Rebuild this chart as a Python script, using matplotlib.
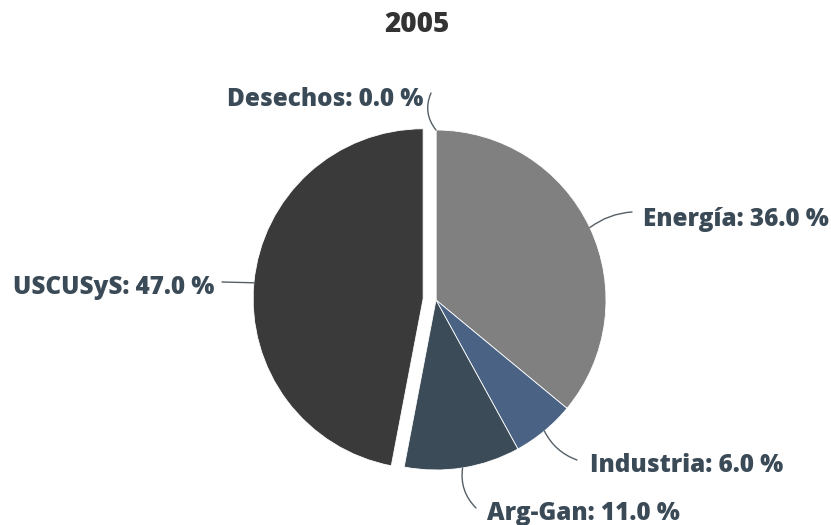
import numpy as np
import matplotlib.pyplot as plt

# datos 2005
categorias = ['Energía', 'Industria', 'Arg-Gan', 'USCUSyS', 'Desechos']
porcentajes = [36.0, 6.0, 11.0, 47.0, 0.0]
colores = ['#808080', '#4a6283', '#3b4b57', '#3a3a3a', '#3a3a3a']
separacion = [0, 0, 0, 0.076, 0]  # fraccion del radio

W, H = 831, 525
fig = plt.figure(figsize=(W / 100, H / 100), dpi=100)
ax = fig.add_axes([0, 0, 1, 1])

cx, cy, r = 436, H - 300, 170
# en matplotlib explode va en unidades de datos, no del radio
wedges, _ = ax.pie(porcentajes, colors=colores, startangle=90, counterclock=False,
                   explode=[s * r for s in separacion], center=(cx, cy), radius=r,
                   wedgeprops=dict(edgecolor='white', linewidth=0.6))
ax.set_xlim(0, W)
ax.set_ylim(0, H)
ax.set_aspect('equal')
ax.axis('off')

color_texto = '#3b4a57'
fuente = ['Open Sans', 'DejaVu Sans']

# posicion de etiquetas (px desde arriba-izquierda), alineacion, curvatura
etiquetas = {
    'Energía': ((643, 219), 'left', 0.15),
    'Industria': ((590, 466), 'left', -0.2),
    'Arg-Gan': ((487, 514), 'left', -0.25),
    'USCUSyS': ((214, 288), 'right', 0.0),
    'Desechos': ((423, 99), 'right', 0.3),
}
lineas = {
    'Energía': (632, 212),
    'Industria': (577, 460),
    'Arg-Gan': (476, 508),
    'USCUSyS': (222, 282),
    'Desechos': (431, 93),
}

for w, cat, p in zip(wedges, categorias, porcentajes):
    ang = np.deg2rad((w.theta1 + w.theta2) / 2)
    wx, wy = w.center
    punto = (wx + r * np.cos(ang), wy + r * np.sin(ang))
    (tx, ty), ha, rad = etiquetas[cat]
    lx, ly = lineas[cat]
    ax.annotate('', xy=punto, xytext=(lx, H - ly),
                arrowprops=dict(arrowstyle='-', color='#555f66', lw=1.0,
                                shrinkA=0, shrinkB=0,
                                connectionstyle=f'arc3,rad={rad}'))
    ax.text(tx, H - ty, f'{cat}: {p:.1f} %', ha=ha, va='center', fontsize=17.5,
            fontweight='heavy', color=color_texto, family=fuente)

ax.text(417, H - 25, '2005', ha='center', va='center', fontsize=20,
        fontweight='heavy', color='#333333', family=fuente)

fig.savefig('out.png', dpi=100)
